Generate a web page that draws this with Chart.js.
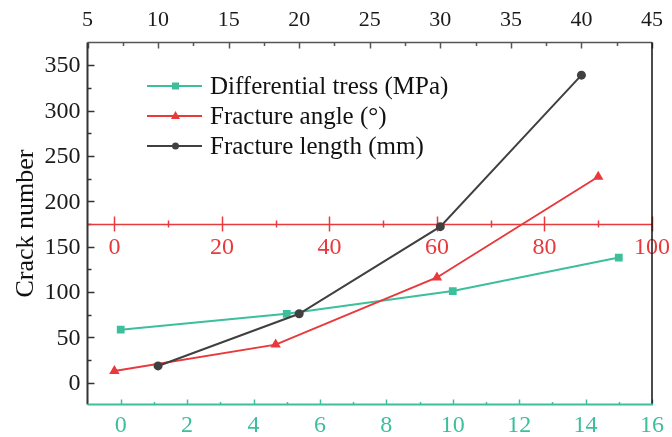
<!DOCTYPE html>
<html>
<head>
<meta charset="utf-8">
<script src="https://cdn.jsdelivr.net/npm/chart.js@4.4.0/dist/chart.umd.min.js"></script>
<style>
  html, body { margin: 0; padding: 0; background: #fff; }
  #wrap { position: relative; width: 672px; height: 437px; }
</style>
</head>
<body>
<div id="wrap"><canvas id="crackChart"></canvas></div>
<script>
// values
const stressX = [0, 5, 10, 15];      // differential stress (MPa) - bottom axis
const stressY = [58.5, 76, 101, 138];
const angleX = [0, 30, 60, 90];      // fracture angle - red middle axis
const angleY = [13, 42, 116, 227];
const lengthX = [10, 20, 30, 40];    // fracture length (mm) - top axis
const lengthY = [18.5, 76, 172, 339];

const seriesNames = ['Differential tress (MPa)', 'Fracture angle (°)', 'Fracture length (mm)'];
const yTitle = 'Crack number';

// tick labels
const yTicks = [0, 50, 100, 150, 200, 250, 300, 350];
const bottomTicks = [0, 2, 4, 6, 8, 10, 12, 14, 16];
const redTicks = [0, 20, 40, 60, 80, 100];
const topTicks = [5, 10, 15, 20, 25, 30, 35, 40, 45];
const redAxisAt = 175.5; // crack number where the red axis sits

const TEAL = '#3dbf9c';
const RED = '#e8393c';
const DARK = '#404040';
const FONT = '"Liberation Serif", "Times New Roman", serif';

function pts(xs, ys) {
    return xs.map(function(x, i) { return { x: x, y: ys[i] }; });
}

function midpoints(arr) {
    const out = [];
    for (let i = 0; i < arr.length - 1; i++) out.push((arr[i] + arr[i + 1]) / 2);
    return out;
}

function seg(ctx, x1, y1, x2, y2) {
    ctx.beginPath();
    ctx.moveTo(x1, y1);
    ctx.lineTo(x2, y2);
    ctx.stroke();
}

// axes, ticks and labels drawn from the chart's own scales
const axesPlugin = {
    id: 'axesPlugin',
    beforeDatasetsDraw(chart) {
        const ctx = chart.ctx;
        const a = chart.chartArea;
        const y = chart.scales.y, xb = chart.scales.xb, xr = chart.scales.xr, xt = chart.scales.xt;
        ctx.save();
        ctx.font = '24px ' + FONT;
        ctx.textBaseline = 'middle';

        // left axis
        ctx.strokeStyle = '#333';
        ctx.lineWidth = 1.5;
        yTicks.forEach(function(v) {
            const p = Math.round(y.getPixelForValue(v)) + 0.5;
            seg(ctx, a.left, p, a.left + 7, p);
        });
        midpoints(yTicks).forEach(function(v) {
            const p = Math.round(y.getPixelForValue(v)) + 0.5;
            seg(ctx, a.left, p, a.left + 4, p);
        });
        ctx.fillStyle = '#1a1a1a';
        ctx.textAlign = 'right';
        yTicks.forEach(function(v) {
            ctx.fillText(String(v), a.left - 7, y.getPixelForValue(v) + 1);
        });

        // top axis (fracture length)
        ctx.strokeStyle = '#555';
        topTicks.forEach(function(v) {
            const p = Math.round(xt.getPixelForValue(v)) + 0.5;
            seg(ctx, p, a.top, p, a.top + 6);
        });
        midpoints(topTicks).forEach(function(v) {
            const p = Math.round(xt.getPixelForValue(v)) + 0.5;
            seg(ctx, p, a.top, p, a.top + 3.5);
        });
        ctx.font = '22px ' + FONT;
        ctx.textAlign = 'center';
        topTicks.forEach(function(v) {
            ctx.fillText(String(v), xt.getPixelForValue(v), 20);
        });

        // bottom axis (differential stress)
        ctx.strokeStyle = TEAL;
        bottomTicks.forEach(function(v) {
            const p = Math.round(xb.getPixelForValue(v)) + 0.5;
            seg(ctx, p, a.bottom, p, a.bottom - 5);
        });
        midpoints(bottomTicks).forEach(function(v) {
            const p = Math.round(xb.getPixelForValue(v)) + 0.5;
            seg(ctx, p, a.bottom, p, a.bottom - 2.5);
        });
        ctx.font = '24px ' + FONT;
        ctx.fillStyle = TEAL;
        bottomTicks.forEach(function(v) {
            ctx.fillText(String(v), xb.getPixelForValue(v), a.bottom + 21);
        });

        // red middle axis (fracture angle)
        const ry = Math.round(y.getPixelForValue(redAxisAt)) + 0.5;
        ctx.strokeStyle = RED;
        ctx.lineWidth = 1.5;
        seg(ctx, a.left, ry, a.right, ry);
        redTicks.forEach(function(v) {
            const p = Math.round(xr.getPixelForValue(v)) + 0.5;
            seg(ctx, p, ry - 8, p, ry + 7);
        });
        midpoints(redTicks).forEach(function(v) {
            const p = Math.round(xr.getPixelForValue(v)) + 0.5;
            seg(ctx, p, ry - 4, p, ry + 3);
        });
        ctx.fillStyle = RED;
        redTicks.forEach(function(v) {
            ctx.fillText(String(v), xr.getPixelForValue(v), ry + 23);
        });

        // frame
        ctx.lineWidth = 2;
        ctx.strokeStyle = '#333';
        seg(ctx, a.left, a.top, a.left, a.bottom);
        ctx.lineWidth = 1.5;
        ctx.strokeStyle = '#555';
        seg(ctx, a.left, a.top, a.right, a.top);
        ctx.strokeStyle = '#111';
        seg(ctx, a.right, a.top, a.right, a.bottom);
        ctx.lineWidth = 2;
        ctx.strokeStyle = TEAL;
        seg(ctx, a.left, a.bottom, a.right + 1, a.bottom);

        // y title
        ctx.save();
        ctx.translate(26, (a.top + a.bottom) / 2);
        ctx.rotate(-Math.PI / 2);
        ctx.font = '26px ' + FONT;
        ctx.fillStyle = '#111';
        ctx.textAlign = 'center';
        ctx.fillText(yTitle, 0, 0);
        ctx.restore();

        ctx.restore();
    },
    afterDraw(chart) {
        // legend, top-left inside the plot
        const ctx = chart.ctx;
        const sets = chart.data.datasets;
        ctx.save();
        ctx.font = '25px ' + FONT;
        ctx.textBaseline = 'middle';
        ctx.textAlign = 'left';
        sets.forEach(function(ds, i) {
            const cy = 86 + i * 30;
            ctx.strokeStyle = ds.borderColor;
            ctx.fillStyle = ds.borderColor;
            ctx.lineWidth = 2;
            seg(ctx, 147, cy, 202, cy);
            ctx.beginPath();
            if (ds.pointStyle === 'rect') {
                ctx.rect(172, cy - 3.5, 7, 7);
            } else if (ds.pointStyle === 'triangle') {
                ctx.moveTo(175.5, cy - 5);
                ctx.lineTo(180, cy + 3);
                ctx.lineTo(171, cy + 3);
                ctx.closePath();
            } else {
                ctx.arc(175.5, cy, 3.5, 0, Math.PI * 2);
            }
            ctx.fill();
            ctx.fillStyle = '#111';
            ctx.fillText(ds.label, 210, cy + 1);
        });
        ctx.restore();
    }
};

const ctx = document.getElementById('crackChart');
new Chart(ctx, {
    type: 'line',
    data: {
        datasets: [{
            label: seriesNames[0],
            data: pts(stressX, stressY),
            xAxisID: 'xb',
            borderColor: TEAL,
            backgroundColor: TEAL,
            pointStyle: 'rect',
            pointRadius: 5.5,
            order: 3
        }, {
            label: seriesNames[1],
            data: pts(angleX, angleY),
            xAxisID: 'xr',
            borderColor: RED,
            backgroundColor: RED,
            pointStyle: 'triangle',
            pointRadius: 6,
            order: 2
        }, {
            label: seriesNames[2],
            data: pts(lengthX, lengthY),
            xAxisID: 'xt',
            borderColor: DARK,
            backgroundColor: DARK,
            pointStyle: 'circle',
            pointRadius: 4.5,
            order: 1
        }]
    },
    options: {
        responsive: true,
        maintainAspectRatio: false,
        animation: false,
        layout: { padding: { left: 87.5, top: 42.5, right: 20, bottom: 32.5 } },
        elements: {
            line: { borderWidth: 2, tension: 0 },
            point: { borderWidth: 0, hoverRadius: 6 }
        },
        plugins: {
            legend: { display: false },
            tooltip: { enabled: false }
        },
        scales: {
            y: { type: 'linear', min: -24, max: 375, display: false },
            xb: { type: 'linear', position: 'bottom', min: -1, max: 16, display: false },
            xr: { type: 'linear', position: 'bottom', min: -5, max: 100, display: false },
            xt: { type: 'linear', position: 'top', min: 5, max: 45, display: false }
        }
    },
    plugins: [axesPlugin]
});
</script>
</body>
</html>
